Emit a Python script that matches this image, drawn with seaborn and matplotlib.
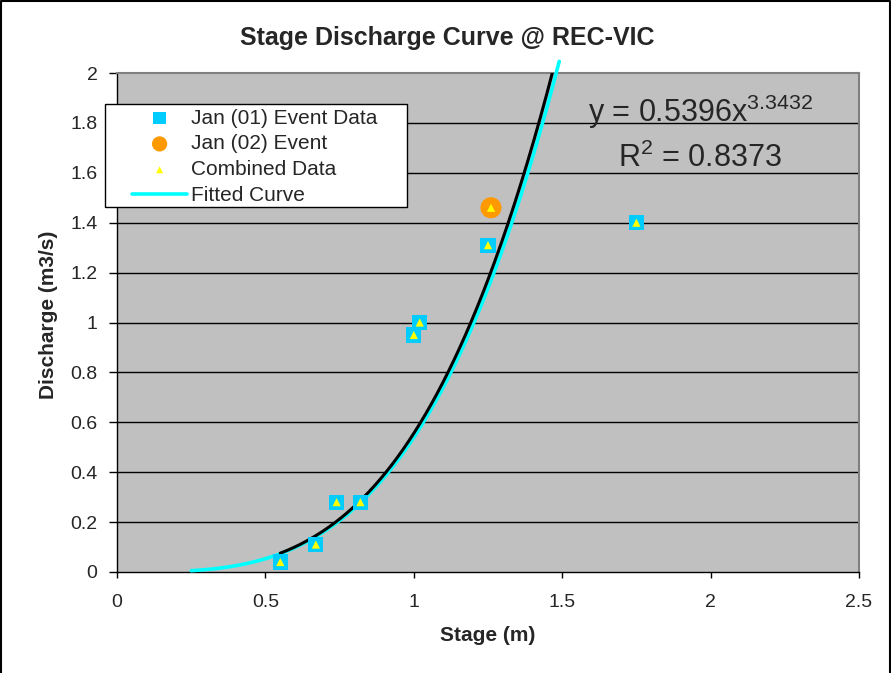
import numpy as np
import pandas as pd
import matplotlib
matplotlib.use("Agg")
import matplotlib.pyplot as plt
from matplotlib.patches import Rectangle
from matplotlib.lines import Line2D
from matplotlib.legend_handler import HandlerLine2D, HandlerPathCollection
import seaborn as sns

# ---- data ----
jan01_stage = [0.55, 0.67, 0.74, 0.82, 1.00, 1.02, 1.25, 1.75]
jan01_discharge = [0.04, 0.11, 0.28, 0.28, 0.95, 1.00, 1.31, 1.40]
jan02_stage = [1.26]
jan02_discharge = [1.46]
fit_a = 0.5396
fit_b = 3.3432
r_squared = 0.8373
fit_x_range = [0.25, 1.49]
trend_x_range = [0.55, 1.50]

x_ticks = [0, 0.5, 1, 1.5, 2, 2.5]
x_tick_labels = ["0", "0.5", "1", "1.5", "2", "2.5"]
y_ticks = [0, 0.2, 0.4, 0.6, 0.8, 1, 1.2, 1.4, 1.6, 1.8, 2]
y_tick_labels = ["0", "0.2", "0.4", "0.6", "0.8", "1", "1.2", "1.4", "1.6", "1.8", "2"]

sns.set_style("white")
plt.rcParams["font.family"] = ["Liberation Sans", "DejaVu Sans"]
plt.rcParams["mathtext.fontset"] = "custom"
plt.rcParams["mathtext.rm"] = "Liberation Sans"
plt.rcParams["mathtext.it"] = "Liberation Sans"
plt.rcParams["mathtext.default"] = "rm"

W, H = 891, 673
fig = plt.figure(figsize=(W / 100, H / 100), dpi=100)
fig.patch.set_facecolor("white")

# outer frame (top, left, right)
fx = [1 / W, 1 / W, (W - 1.5) / W, (W - 1.5) / W]
fy = [0.0, 1 - 1 / H, 1 - 1 / H, 0.0]
fig.add_artist(Line2D(fx, fy, transform=fig.transFigure, color="black", lw=1.5))

ax = fig.add_axes([117 / W, 1 - 572 / H, (859 - 117) / W, (572 - 73) / H])
ax.set_facecolor("#C0C0C0")

df01 = pd.DataFrame({"stage": jan01_stage, "q": jan01_discharge})
df02 = pd.DataFrame({"stage": jan02_stage, "q": jan02_discharge})
dfall = pd.concat([df01, df02], ignore_index=True)

xf = np.linspace(fit_x_range[0], fit_x_range[1], 300)
dffit = pd.DataFrame({"stage": xf, "q": fit_a * xf ** fit_b})
xt = np.linspace(trend_x_range[0], trend_x_range[1], 300)
dftr = pd.DataFrame({"stage": xt, "q": fit_a * xt ** fit_b * 1.03})

for yv in y_ticks[1:-1]:
    ax.axhline(yv, color="black", lw=1.0, zorder=1)

sns.lineplot(data=dffit, x="stage", y="q", ax=ax, color="#00FFFF", lw=2.6,
             label="Fitted Curve", zorder=3, sort=False)
ax.lines[-1].set_clip_on(False)
sns.lineplot(data=dftr, x="stage", y="q", ax=ax, color="black", lw=2.2,
             label="_trend", zorder=4, sort=False)
sns.scatterplot(data=df01, x="stage", y="q", ax=ax, marker="s", s=120,
                color="#00CCFF", edgecolor="none", label="Jan (01) Event Data", zorder=5)
sns.scatterplot(data=df02, x="stage", y="q", ax=ax, marker="o", s=230,
                color="#FF9900", edgecolor="none", label="Jan (02) Event", zorder=5)
sns.scatterplot(data=dfall, x="stage", y="q", ax=ax, marker="^", s=35,
                color="#FFFF00", edgecolor="none", label="Combined Data", zorder=6)

ax.set_xlim(0, 2.5)
ax.set_ylim(0, 2)
ax.set_xticks(x_ticks)
ax.set_xticklabels(x_tick_labels)
ax.set_yticks(y_ticks)
ax.set_yticklabels(y_tick_labels)
ax.tick_params(axis="x", labelsize=14, length=4.5, width=1, color="black",
               direction="out", pad=11, bottom=True)
ax.tick_params(axis="y", labelsize=14, length=6, width=1, color="black",
               direction="out", pad=8, left=True)

for s in ["left", "bottom"]:
    ax.spines[s].set_color("black")
    ax.spines[s].set_linewidth(1)
for s in ["top", "right"]:
    ax.spines[s].set_color("#808080")
    ax.spines[s].set_linewidth(1.5)

ax.set_xlabel("Stage (m)", fontsize=15, fontweight="bold")
ax.xaxis.set_label_coords(0.5, -0.108)
ax.set_ylabel("Discharge (m3/s)", fontsize=15, fontweight="bold")
ax.yaxis.set_label_coords(-0.080, 0.515)
fig.text(447 / W, 1 - 38 / H, "Stage Discharge Curve @ REC-VIC", ha="center", va="center",
         fontsize=18, fontweight="bold")

fig.text(701 / W, 1 - 122 / H, "y = %.4fx$^{%.4f}$" % (fit_a, fit_b), ha="center",
         va="baseline", fontsize=22)
fig.text(700 / W, 1 - 167 / H, "R$^{2}$ = %.4f" % r_squared, ha="center", va="baseline",
         fontsize=22)

# legend frame drawn manually (wide horizontal padding as in the reference)
frame = Rectangle((105 / W, 1 - 207 / H), (407 - 105) / W, (207 - 104) / H,
                  transform=fig.transFigure, facecolor="white", edgecolor="black",
                  lw=1, zorder=10, clip_on=False)
ax.add_patch(frame)

handles, labels = ax.get_legend_handles_labels()
order = ["Jan (01) Event Data", "Jan (02) Event", "Combined Data", "Fitted Curve"]
hmap = dict(zip(labels, handles))
hsizes = {"Jan (01) Event Data": 80, "Jan (02) Event": 120, "Combined Data": 25}
handler_map = {hmap[k]: HandlerPathCollection(sizes=[v]) for k, v in hsizes.items()}
handler_map[hmap["Fitted Curve"]] = HandlerLine2D()
leg = ax.legend([hmap[k] for k in order], order, loc="upper left",
                bbox_to_anchor=(132 / W, 1 - 108.5 / H), bbox_transform=fig.transFigure,
                borderaxespad=0, borderpad=0, fontsize=15, frameon=False,
                handlelength=2.65, handletextpad=0.2, labelspacing=0.33,
                handler_map=handler_map)
leg.set_zorder(11)

fig.savefig("out.png", dpi=100)
